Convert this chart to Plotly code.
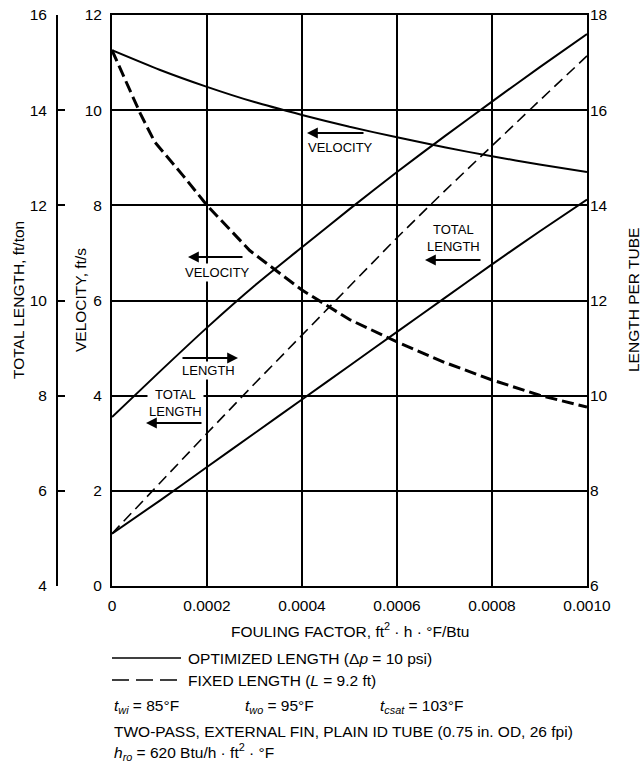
import plotly.graph_objects as go

# ---------------- data ----------------
fouling = [0, 0.0001, 0.0002, 0.0003, 0.0004, 0.0005, 0.0006, 0.0007, 0.0008, 0.0009, 0.0010]

# optimized length (solid)
velocity_opt = [11.26, 10.85, 10.49, 10.17, 9.90, 9.65, 9.43, 9.22, 9.03, 8.86, 8.70]           # ft/s
length_per_tube_opt = [9.55, 10.50, 11.43, 12.31, 13.12, 13.92, 14.70, 15.45, 16.18, 16.90, 17.60]  # ft
total_length_opt = [5.10, 5.79, 6.50, 7.21, 7.92, 8.63, 9.34, 10.05, 10.76, 11.45, 12.12]       # ft/ton

# fixed length (dashed)
fouling_vel_fixed = [0, 0.00002, 0.00004, 0.00006, 0.00009, 0.00015, 0.0002, 0.00029,
                     0.0004, 0.0005, 0.0006, 0.0007, 0.0008, 0.0009, 0.0010]
velocity_fixed = [11.26, 10.82, 10.36, 9.92, 9.33, 8.62, 8.00, 7.05,
                  6.22, 5.60, 5.13, 4.70, 4.33, 4.01, 3.76]                                      # ft/s
total_length_fixed = [5.10, 6.16, 7.21, 8.25, 9.28, 10.31, 11.32, 12.30, 13.26, 14.20, 15.14]  # ft/ton

x_ticks = [0, 0.0002, 0.0004, 0.0006, 0.0008, 0.0010]
x_tick_labels = ["0", "0.0002", "0.0004", "0.0006", "0.0008", "0.0010"]
vel_ticks = [0, 2, 4, 6, 8, 10, 12]
tl_ticks = [4, 6, 8, 10, 12, 14, 16]
lpt_ticks = [6, 8, 10, 12, 14, 16, 18]

# ---------------- geometry helpers (page pixels -> paper) ----------------
W, H = 643, 763
ML, MR, MT = 5, 5, 15
MB = H - 586
PW, PH = W - ML - MR, H - MT - MB
def px(x):
    return (x - ML) / PW
def py(y):
    return (H - MB - y) / PH

FONT = "Liberation Sans, Arial, sans-serif"
BLACK = "#000000"
FS = 15.5

fig = go.Figure()

fig.add_trace(go.Scatter(x=fouling, y=velocity_opt, mode="lines", yaxis="y",
                         line=dict(color=BLACK, width=2, shape="spline", smoothing=0.6),
                         showlegend=False, hoverinfo="skip"))
fig.add_trace(go.Scatter(x=fouling, y=length_per_tube_opt, mode="lines", yaxis="y3",
                         line=dict(color=BLACK, width=2, shape="spline", smoothing=0.6),
                         showlegend=False, hoverinfo="skip"))
fig.add_trace(go.Scatter(x=fouling, y=total_length_opt, mode="lines", yaxis="y2",
                         line=dict(color=BLACK, width=2, shape="spline", smoothing=0.6),
                         showlegend=False, hoverinfo="skip"))
fig.add_trace(go.Scatter(x=fouling_vel_fixed, y=velocity_fixed, mode="lines", yaxis="y",
                         line=dict(color=BLACK, width=3, dash="12px,5px"),
                         showlegend=False, hoverinfo="skip"))
fig.add_trace(go.Scatter(x=fouling, y=total_length_fixed, mode="lines", yaxis="y2",
                         line=dict(color=BLACK, width=1.6, dash="11px,6px"),
                         showlegend=False, hoverinfo="skip"))

x0p, x1p = px(112), px(587)

fig.update_layout(
    width=W, height=H,
    margin=dict(l=ML, r=MR, t=MT, b=MB, autoexpand=False),
    paper_bgcolor="white", plot_bgcolor="white",
    font=dict(family=FONT, size=FS, color=BLACK),
    xaxis=dict(domain=[x0p, x1p], range=[0, 0.001], tickvals=x_ticks, ticktext=x_tick_labels,
               showgrid=True, gridcolor=BLACK, gridwidth=1.6, zeroline=False, automargin=False,
               showline=True, linecolor=BLACK, linewidth=2, mirror=True,
               ticks="", ticklabelstandoff=4, tickfont=dict(size=FS)),
    yaxis=dict(domain=[0, 1], range=[0, 12], tickvals=vel_ticks, showgrid=True, gridcolor=BLACK,
               gridwidth=1.6, zeroline=False, automargin=False,
               showline=True, linecolor=BLACK, linewidth=2, mirror=True,
               ticks="", ticklabelstandoff=5, tickfont=dict(size=FS)),
    yaxis2=dict(range=[4, 16], tickvals=tl_ticks, overlaying="y", side="left", anchor="free",
                position=px(57), showgrid=False, zeroline=False, showline=True, linecolor=BLACK,
                linewidth=2, ticks="inside", ticklen=7, tickwidth=2, tickcolor=BLACK,
                automargin=False, ticklabelstandoff=6, tickfont=dict(size=FS)),
    yaxis3=dict(range=[6, 18], tickvals=lpt_ticks, overlaying="y", side="right", anchor="x",
                showgrid=False, zeroline=False, showline=False, ticks="", automargin=False,
                ticklabelstandoff=2, tickfont=dict(size=FS)),
)

ann = []
def text(x, y, s, size=FS, xanchor="left", angle=0, bg=None):
    d = dict(x=px(x), y=py(y), xref="paper", yref="paper", text=s, showarrow=False,
             xanchor=xanchor, yanchor="middle", textangle=angle,
             font=dict(family=FONT, size=size, color=BLACK))
    if bg:
        d["bgcolor"] = bg
        d["borderpad"] = 1
    ann.append(d)

# axis titles
text(18, 300, "TOTAL LENGTH, ft/ton", xanchor="center", angle=-90)
text(80, 300, "VELOCITY, ft/s", xanchor="center", angle=-90)
text(633, 300, "LENGTH PER TUBE", xanchor="center", angle=-90)
text(350, 630, "FOULING FACTOR, ft<sup>2</sup> · h · °F/Btu", xanchor="center")

# bottom notes
text(186, 658, "OPTIMIZED LENGTH (Δ<i>p</i> = 10 psi)")
text(186, 680, "FIXED LENGTH (<i>L</i> = 9.2 ft)")
text(112, 706, "<i>t</i><sub><i>wi</i></sub> = 85°F")
text(243, 706, "<i>t</i><sub><i>wo</i></sub> = 95°F")
text(378, 706, "<i>t</i><sub><i>csat</i></sub> = 103°F")
text(112, 731, "TWO-PASS, EXTERNAL FIN, PLAIN ID TUBE (0.75 in. OD, 26 fpi)")
text(112, 752, "<i>h</i><sub><i>ro</i></sub> = 620 Btu/h · ft<sup>2</sup> · °F")

# in-plot labels
text(340, 147, "VELOCITY", size=13, xanchor="center", bg="white")
text(217, 272, "VELOCITY", size=13, xanchor="center", bg="white")
text(208, 370, "LENGTH", size=13, xanchor="center", bg="white")
text(175, 403, "TOTAL<br>LENGTH", size=13, xanchor="center", bg="white")
text(453, 238, "TOTAL<br>LENGTH", size=13, xanchor="center", bg="white")

def arrow(x_tail, x_head, y):
    ann.append(dict(x=px(x_head), y=py(y), ax=x_tail - x_head, ay=0, xref="paper", yref="paper",
                    axref="pixel", ayref="pixel", text="", showarrow=True, arrowhead=2,
                    arrowsize=1.2, arrowwidth=1.8, arrowcolor=BLACK, standoff=0, startstandoff=0))

arrow(365, 307, 133)
arrow(244, 188, 257)
arrow(181, 238, 358)
arrow(203, 146, 423)
arrow(482, 425, 260)

fig.update_layout(annotations=ann)

# legend sample lines
fig.add_shape(type="line", xref="paper", yref="paper", x0=px(112), x1=px(181), y0=py(658), y1=py(658),
              line=dict(color=BLACK, width=1.6))
fig.add_shape(type="line", xref="paper", yref="paper", x0=px(112), x1=px(181), y0=py(680), y1=py(680),
              line=dict(color=BLACK, width=1.6, dash="17px,7px"))

fig.write_html("out.html", config={"displayModeBar": False},
               post_script="document.body.style.margin='0';document.body.style.overflow='hidden';")
